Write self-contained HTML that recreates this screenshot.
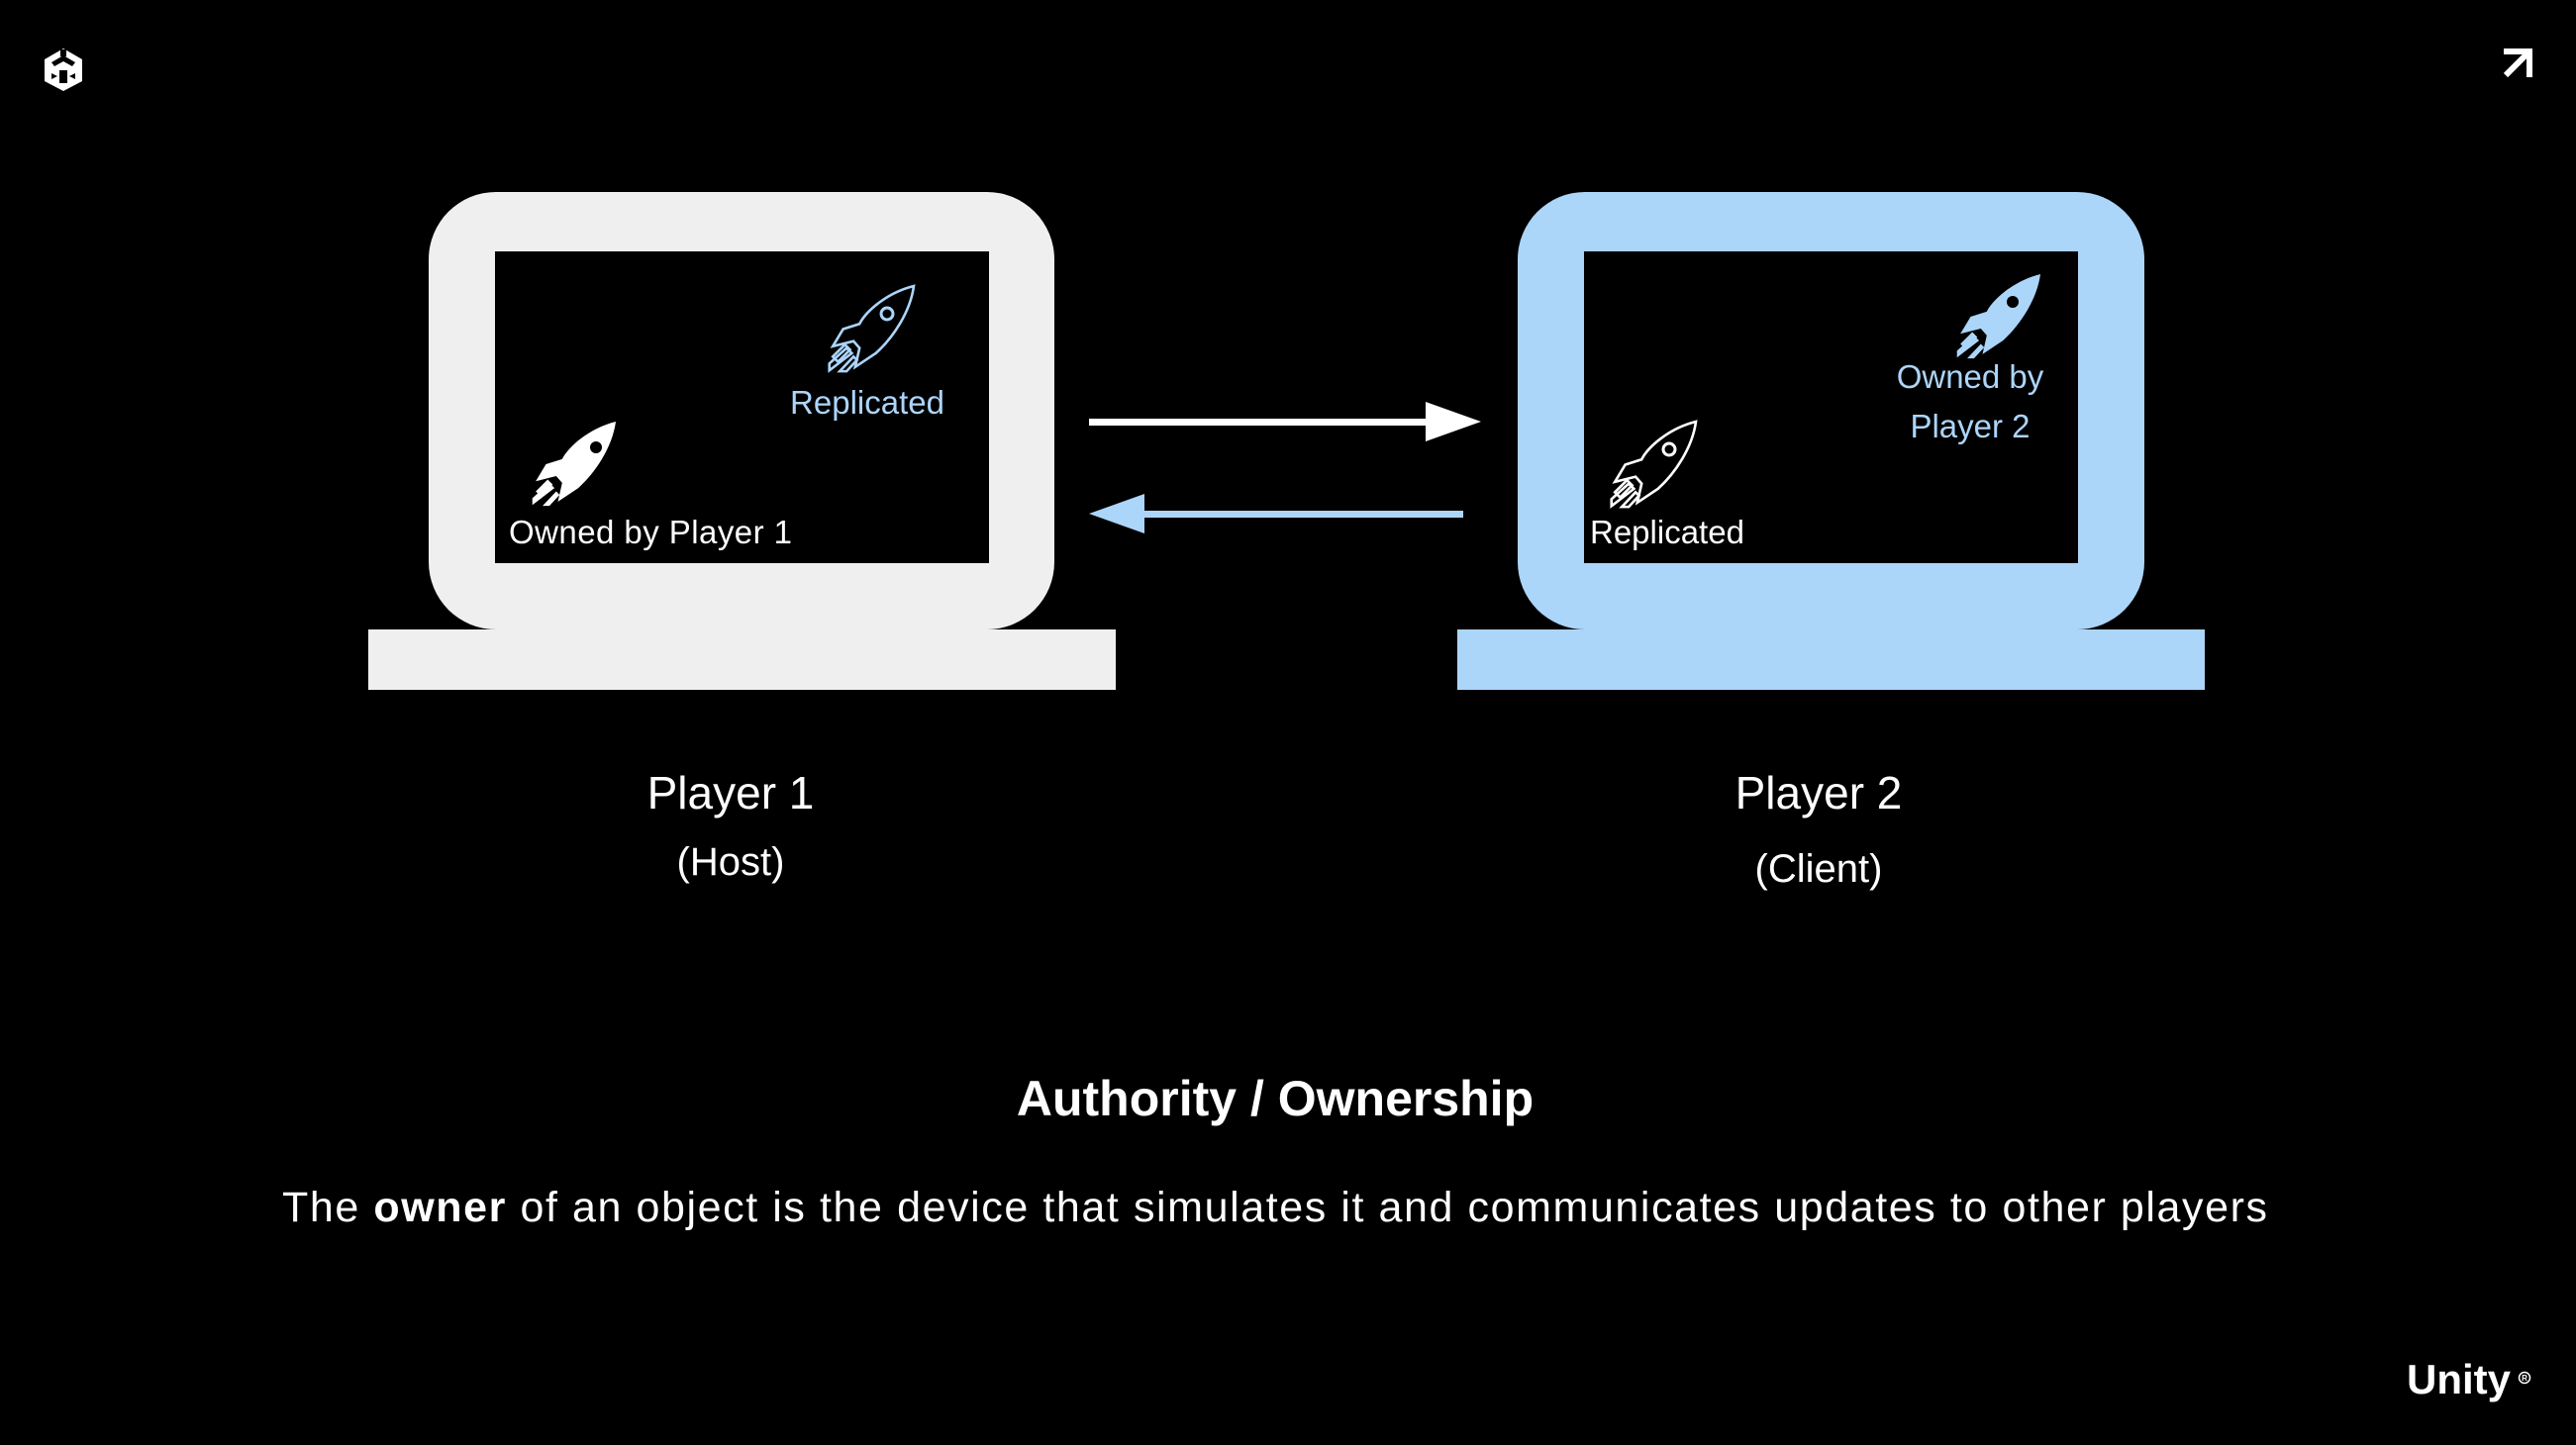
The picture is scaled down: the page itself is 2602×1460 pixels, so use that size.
<!DOCTYPE html>
<html><head><meta charset="utf-8"><style>
html,body{margin:0;padding:0;background:#000;}
svg{display:block}
text{font-family:"Liberation Sans",sans-serif;}
</style></head><body>
<svg width="2602" height="1460" viewBox="0 0 2602 1460" xmlns="http://www.w3.org/2000/svg">
<defs>
<g id="rk">
<path d="M100 0 C68 8 44 30 37 44 L18 50 L6 70 L30 64 L37 72 L32 94 L56 78 C76 60 96 30 100 0 Z"/>
<path d="M6 82 L20 68 L26 74 L12 88 Z"/>
<path d="M2 98 L2 90 L22 72 L28 78 Z"/>
<path d="M14 99 L30 82 L34 86 L22 99 Z"/>
</g>
</defs>
<rect width="2602" height="1460" fill="#000"/>
<g fill="#fff">
<path d="M64 49 L83 60 L83 82 L64 92 L45 82 L45 60 Z"/>
<path d="M64 56 L64 62 L55 67 L52 63 Z M64 62 L73 67 L76 63 L64 56 Z" fill="#000"/>
<path d="M52 74 L52 80 L58 77 Z M76 74 L76 80 L70 77 Z M60 71 L68 71 L68 84 L60 84 Z" fill="#000"/>
<path d="M61 50 L67 50 L67 57 L61 57 Z" fill="#000"/>
</g>
<path d="M2531 76 L2554 53 M2529 52 L2555 52 L2555 78" stroke="#fff" stroke-width="6" fill="none"/>
<rect x="433" y="194" width="632" height="442" rx="68" fill="#efefef"/>
<rect x="500" y="254" width="499" height="315" fill="#000"/>
<rect x="372" y="636" width="755" height="61" fill="#efefef"/>
<rect x="1533" y="194" width="633" height="442" rx="68" fill="#acd5fa"/>
<rect x="1600" y="254" width="499" height="315" fill="#000"/>
<rect x="1472" y="636" width="755" height="61" fill="#acd5fa"/>
<rect x="1100" y="423" width="345" height="7" fill="#fff"/>
<path d="M1440 406 L1496 426 L1440 446 Z" fill="#fff"/>
<rect x="1150" y="516" width="328" height="7" fill="#acd5fa"/>
<path d="M1156 499 L1100 519 L1156 539 Z" fill="#acd5fa"/>
<g transform="translate(536,426) scale(0.86)" fill="#fff"><use href="#rk"/></g>
<circle cx="602" cy="452" r="6" fill="#000"/>
<g transform="translate(836,289) scale(0.87)" fill="none" stroke="#acd5fa" stroke-width="3"><use href="#rk"/></g>
<circle cx="896" cy="317" r="6" fill="none" stroke="#acd5fa" stroke-width="3"/>
<g transform="translate(1975,277) scale(0.86)" fill="#acd5fa"><use href="#rk"/></g>
<circle cx="2033" cy="305" r="6" fill="#000"/>
<g transform="translate(1626,426) scale(0.87)" fill="none" stroke="#fff" stroke-width="3"><use href="#rk"/></g>
<circle cx="1686" cy="454" r="6" fill="none" stroke="#fff" stroke-width="3"/>
<text x="876" y="418" font-size="33" fill="#acd5fa" text-anchor="middle">Replicated</text>
<text x="514" y="549" font-size="33" fill="#fff" textLength="286">Owned by Player 1</text>
<text x="1990" y="392" font-size="33" fill="#acd5fa" text-anchor="middle">Owned by</text>
<text x="1990" y="442" font-size="33" fill="#acd5fa" text-anchor="middle">Player 2</text>
<text x="1606" y="549" font-size="33" fill="#fff">Replicated</text>
<text x="738" y="817" font-size="46" fill="#fff" text-anchor="middle">Player 1</text>
<text x="738" y="884" font-size="40" fill="#fff" text-anchor="middle">(Host)</text>
<text x="1837" y="817" font-size="46" fill="#fff" text-anchor="middle">Player 2</text>
<text x="1837" y="891" font-size="40" fill="#fff" text-anchor="middle">(Client)</text>
<text x="1288" y="1127" font-size="50" font-weight="bold" fill="#fff" text-anchor="middle">Authority / Ownership</text>
<text x="285" y="1234" font-size="43" fill="#fff" textLength="2005">The <tspan font-weight="bold">owner</tspan> of an object is the device that simulates it and communicates updates to other players</text>
<text x="2431" y="1408" font-size="42" font-weight="bold" fill="#fff">Unity</text>
<circle cx="2550" cy="1392" r="5.5" fill="none" stroke="#fff" stroke-width="1.5"/>
<text x="2550" y="1395" font-size="8" font-weight="bold" fill="#fff" text-anchor="middle">R</text>
</svg>
</body></html>
